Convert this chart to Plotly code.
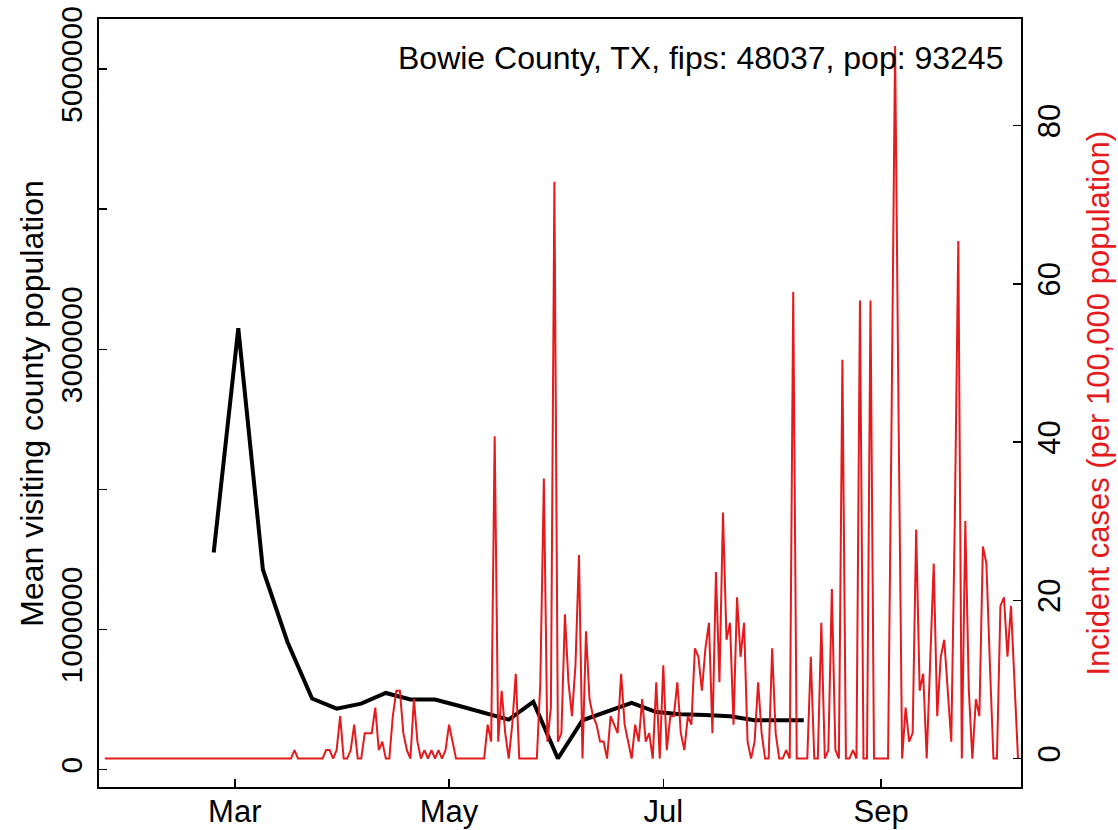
import plotly.graph_objects as go
import pandas as pd

# ---------------- data ----------------
pop = 93245
county_label = "Bowie County, TX, fips: 48037, pop: 93245"

# weekly mean visiting-county population (starting 2020-02-24, weekly)
visit_start = "2020-02-24"
visit_pop = [1549000, 3150000, 1428000, 911000, 507000, 435000, 471000, 547000,
             500000, 500000, 454000, 405000, 357000, 483000, 79000, 352000,
             415000, 476000, 411000, 395000, 390000, 381000, 352000, 350000,
             352000]

# daily new cases (starting 2020-01-24)
case_start = "2020-01-24"
new_cases = [
    0, 0, 0, 0, 0, 0, 0, 0, 0, 0,
    0, 0, 0, 0, 0, 0, 0, 0, 0, 0,
    0, 0, 0, 0, 0, 0, 0, 0, 0, 0,
    0, 0, 0, 0, 0, 0, 0, 0, 0, 0,
    0, 0, 0, 0, 0, 0, 0, 0, 0, 0,
    0, 0, 0, 0, 1, 0, 0, 0, 0, 0,
    0, 0, 0, 1, 1, 0, 1, 5, 0, 0,
    1, 4, 0, 0, 3, 3, 3, 6, 1, 2,
    0, 0, 5, 8, 8, 3, 1, 0, 7, 2,
    0, 1, 0, 1, 0, 1, 0, 1, 4, 2,
    0, 0, 0, 0, 0, 0, 0, 0, 0, 4,
    2, 38, 2, 8, 3, 0, 4, 10, 0, 0,
    0, 0, 0, 0, 9, 33, 2, 6, 68, 2,
    3, 17, 9, 5, 11, 24, 0, 15, 7, 5,
    4, 2, 2, 0, 5, 4, 3, 10, 4, 2,
    0, 4, 2, 7, 2, 3, 0, 9, 0, 11,
    1, 5, 5, 9, 3, 1, 5, 4, 13, 12,
    8, 13, 16, 3, 22, 9, 29, 14, 16, 4,
    19, 12, 16, 2, 0, 2, 9, 3, 0, 0,
    13, 3, 0, 0, 1, 0, 55, 0, 0, 0,
    0, 12, 0, 0, 16, 0, 1, 20, 1, 0,
    47, 0, 0, 1, 0, 54, 0, 0, 54, 0,
    0, 0, 0, 0, 40, 84, 40, 0, 6, 2,
    3, 27, 8, 10, 0, 11, 23, 5, 12, 14,
    8, 2, 28, 61, 0, 28, 8, 0, 7, 5,
    25, 23, 11, 0, 0, 18, 19, 12, 18, 9, 0,
]

x_tickvals = ["2020-03-01", "2020-05-01", "2020-07-01", "2020-09-01"]
x_ticktext = ["Mar", "May", "Jul", "Sep"]
y_tickvals = [0, 1000000, 2000000, 3000000, 4000000, 5000000]
y_ticktext = ["0", "1000000", "", "3000000", "", "5000000"]
y2_tickvals = [0, 20, 40, 60, 80]
y2_ticktext = ["0", "20", "40", "60", "80"]

# ---------------- derived ----------------
visit_dates = pd.date_range(visit_start, periods=len(visit_pop), freq="7D")
case_dates = pd.date_range(case_start, periods=len(new_cases), freq="D")
rate = [c / pop * 100000 for c in new_cases]

RED = "#E41A1C"
FONT = "Liberation Sans, Arial, Helvetica, sans-serif"
FS = 31

fig = go.Figure()
fig.add_trace(go.Scatter(x=visit_dates, y=visit_pop, mode="lines",
                         line=dict(color="black", width=4), yaxis="y",
                         hoverinfo="skip"))
fig.add_trace(go.Scatter(x=case_dates, y=rate, mode="lines",
                         line=dict(color=RED, width=2), yaxis="y2",
                         hoverinfo="skip"))

axis_common = dict(ticks="inside", ticklen=8, tickwidth=1.5, tickcolor="black",
                   showline=True, linecolor="black", linewidth=2,
                   showgrid=False, zeroline=False, automargin=False,
                   ticklabeloverflow="allow")

fig.update_layout(
    width=1118, height=830, autosize=False,
    margin=dict(l=99, r=97, t=19, b=43, pad=0),
    paper_bgcolor="white", plot_bgcolor="white",
    showlegend=False,
    font=dict(family=FONT, size=FS, color="black"),
    xaxis=dict(type="date", range=["2020-01-22 08:10", "2020-10-10 20:24"],
               tickmode="array", tickvals=x_tickvals, ticktext=x_ticktext,
               mirror=True, ticklabelstandoff=-4,
               tickfont=dict(family=FONT, size=FS, color="black"),
               **axis_common),
    yaxis=dict(range=[-124200, 5357000], tickmode="array",
               tickvals=y_tickvals, ticktext=y_ticktext, tickangle=-90,
               mirror=True, ticklabelstandoff=3,
               tickfont=dict(family=FONT, size=30, color="black"),
               **axis_common),
    yaxis2=dict(range=[-3.592, 93.49], overlaying="y", side="right",
                tickmode="array", tickvals=y2_tickvals, ticktext=y2_ticktext,
                tickangle=-90,
                tickfont=dict(family=FONT, size=FS, color="black"),
                **axis_common),
    annotations=[
        dict(text=county_label, xref="paper", yref="paper",
             x=0.9830, y=0.9495, xanchor="right", yanchor="middle",
             showarrow=False, font=dict(family=FONT, size=32, color="black")),
        dict(text="Mean visiting county population", xref="paper", yref="paper",
             x=-0.073, y=0.5, xanchor="center", yanchor="middle", textangle=-90,
             showarrow=False, font=dict(family=FONT, size=32, color="black")),
        dict(text="Incident cases (per 100,000 population)", xref="paper", yref="paper",
             x=1.083, y=0.5, xanchor="center", yanchor="middle", textangle=-90,
             showarrow=False, font=dict(family=FONT, size=FS, color=RED)),
    ],
)

fig.write_html("out.html",
               config={"displayModeBar": False, "staticPlot": True},
               post_script="document.body.style.margin='0';document.body.style.padding='0';")
